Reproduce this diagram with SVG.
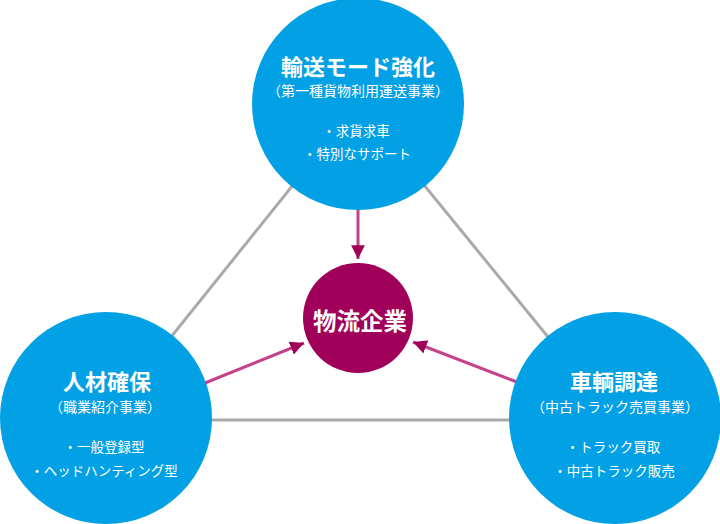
<svg xmlns="http://www.w3.org/2000/svg" width="720" height="524" viewBox="0 0 720 524">
<style>
.blue{fill:#02a0e4}
.core{fill:#a0005a}
.t{font-family:"Noto Sans CJK JP","Noto Sans",sans-serif;fill:#fff;text-anchor:middle}
.title{font-size:22px;font-weight:bold}
.sub{font-size:14px}
.item{font-size:13.5px}
.big{font-size:23.5px;font-weight:bold}
.gray{stroke:#aaaaaa;stroke-width:3;fill:none}
.arr{stroke:#c3428a;stroke-width:3;fill:none}
</style>
<defs>
<marker id="ah" viewBox="0 0 10 10" refX="10" refY="5" markerWidth="4.6" markerHeight="4.6" markerUnits="strokeWidth" orient="auto">
<path d="M0,0 L10,5 L0,10 z" fill="#a0005a"/>
</marker>
</defs>
<g id="connectors">
<line class="gray" x1="358" y1="104" x2="106" y2="418"/>
<line class="gray" x1="358" y1="104" x2="614" y2="418"/>
<line class="gray" x1="106" y1="420" x2="614" y2="420"/>
<line class="arr" x1="358" y1="205" x2="358" y2="259" marker-end="url(#ah)"/>
<line class="arr" x1="205" y1="383" x2="304" y2="343" marker-end="url(#ah)"/>
<line class="arr" x1="517" y1="382" x2="413" y2="342" marker-end="url(#ah)"/>
</g>
<g id="node-top">
<circle class="blue" cx="358" cy="104" r="106"/>
<text class="t title" x="358" y="75">輸送モード強化</text>
<text class="t sub" x="358" y="96">（第一種貨物利用運送事業）</text>
<text class="t item" x="356" y="136">・求貨求車</text>
<text class="t item" x="357" y="159">・特別なサポート</text>
</g>
<g id="node-left">
<circle class="blue" cx="106" cy="418" r="106"/>
<text class="t title" x="107" y="390">人材確保</text>
<text class="t sub" x="105" y="412">（職業紹介事業）</text>
<text class="t item" x="104" y="452">・一般登録型</text>
<text class="t item" x="104" y="476">・ヘッドハンティング型</text>
</g>
<g id="node-right">
<circle class="blue" cx="615" cy="418" r="106"/>
<text class="t title" x="614" y="390">車輌調達</text>
<text class="t sub" x="615" y="412">（中古トラック売買事業）</text>
<text class="t item" x="613" y="452">・トラック買取</text>
<text class="t item" x="614" y="476">・中古トラック販売</text>
</g>
<g id="node-center">
<circle class="core" cx="358" cy="318" r="55"/>
<text class="t big" x="360" y="330">物流企業</text>
</g>
</svg>
